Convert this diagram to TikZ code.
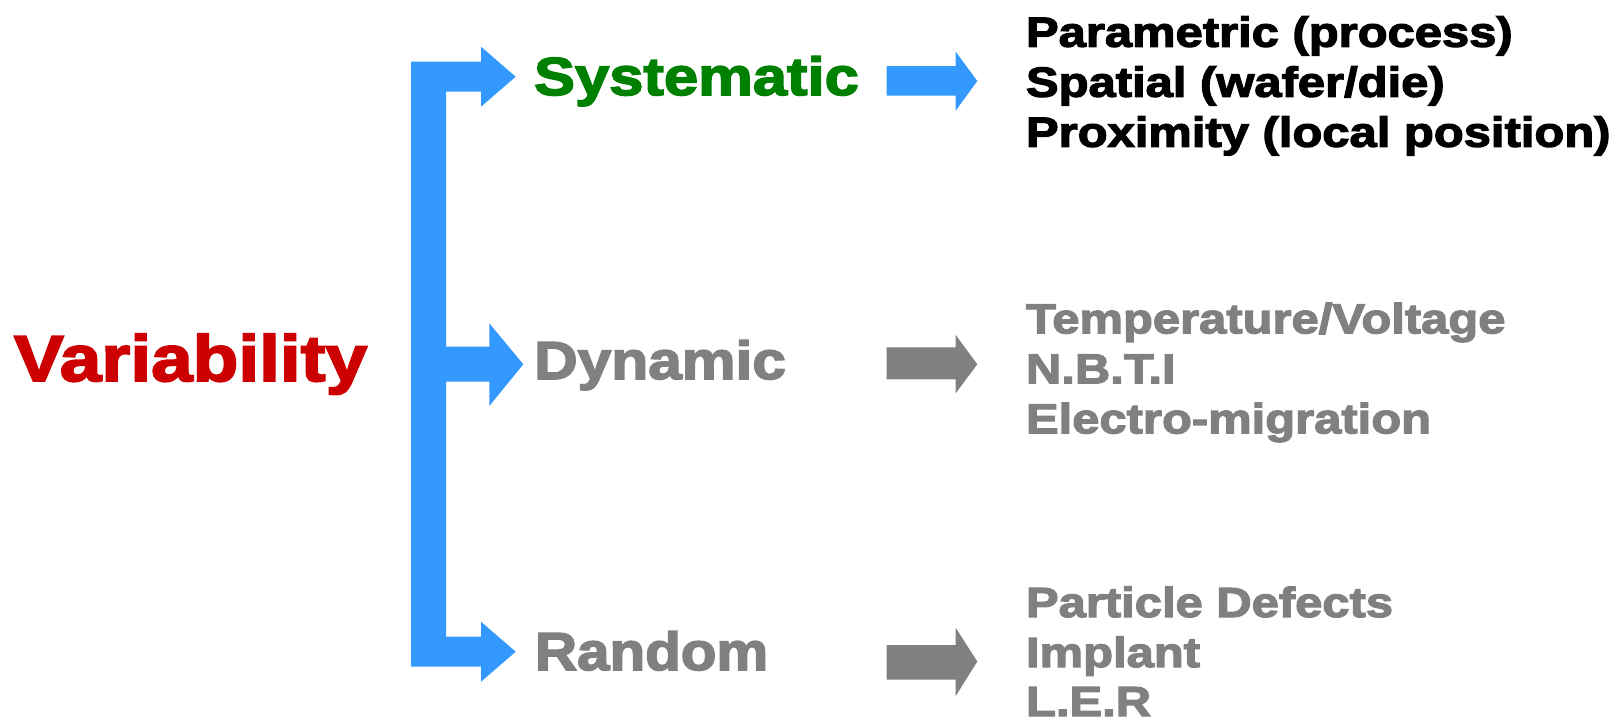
\documentclass[tikz,border=0pt]{standalone}
\usepackage{fontspec}
\newfontfamily\heavy{Liberation Sans Bold}[FakeStretch=1.15,FakeBold=3]
\newfontfamily\heavydyn{Liberation Sans Bold}[FakeStretch=1.13,FakeBold=3]
\newfontfamily\heavyrnd{Liberation Sans Bold}[FakeStretch=1.09,FakeBold=3]
\newfontfamily\heavyitem{Liberation Sans Bold}[FakeStretch=1.165,FakeBold=3]
\definecolor{barblue}{RGB}{51,153,255}
\definecolor{txtgray}{RGB}{128,128,128}
\definecolor{sysgreen}{RGB}{0,128,0}
\definecolor{varred}{RGB}{204,0,0}
\begin{document}
\begin{tikzpicture}[x=1pt,y=-1pt,
  lbl/.style={anchor=base west, inner sep=0pt, outer sep=0pt},
  big/.style={lbl, font=\heavy\fontsize{53.5}{60}\selectfont},
  item/.style={lbl, font=\heavyitem\fontsize{42}{50}\selectfont},
  barfill/.style={fill=barblue, draw=none},
  grayfill/.style={fill=txtgray, draw=none}]
\useasboundingbox (0,0) rectangle (1617,723);

% bracket with three arrows
\fill[barfill] (411,61.7) -- (481,61.7) -- (481,46.7) -- (515.7,76.7) -- (481,106.7) -- (481,91.7)
  -- (446,91.7) -- (446,346.7) -- (489.3,346.7) -- (489.3,323.3) -- (523.3,364.3) -- (489.3,406)
  -- (489.3,381.7) -- (446,381.7) -- (446,636.7) -- (481,636.7) -- (481,621.7) -- (515.7,651.7)
  -- (481,681.7) -- (481,666.7) -- (411,666.7) -- cycle;

% small arrows
\fill[barfill] (886.7,66) -- (955.7,66) -- (955.7,51.7) -- (977.3,81) -- (955.7,110.7) -- (955.7,95.7) -- (886.7,95.7) -- cycle;
\fill[grayfill] (886.7,347.3) -- (955.7,347.3) -- (955.7,335) -- (977.3,364.3) -- (955.7,393.3) -- (955.7,379.3) -- (886.7,379.3) -- cycle;
\fill[grayfill] (886.7,645) -- (955.7,645) -- (955.7,627.8) -- (977.3,661.5) -- (955.7,696) -- (955.7,679.5) -- (886.7,679.5) -- cycle;

% labels
\node[lbl, font=\heavy\fontsize{65}{70}\selectfont, text=varred] (var) at (14,381) {Variability};
\node[big, text=sysgreen] (sys) at (534,95) {Systematic};
\node[big, font=\heavydyn\fontsize{53.5}{60}\selectfont, text=txtgray] (dyn) at (534,379) {Dynamic};
\node[big, font=\heavyrnd\fontsize{53.5}{60}\selectfont, text=txtgray] (rnd) at (535,670) {Random};

\node[item, text=black] (s1) at (1026,46.7) {Parametric (process)};
\node[item, text=black] (s2) at (1026,96.7) {Spatial (wafer/die)};
\node[item, text=black] (s3) at (1026,146.7) {Proximity (local position)};

\node[item, text=txtgray] (d1) at (1026,333.3) {Temperature/Voltage};
\node[item, text=txtgray] (d2) at (1026,383.3) {N.B.T.I};
\node[item, text=txtgray] (d3) at (1026,433.3) {Electro-migration};

\node[item, text=txtgray] (r1) at (1026,617) {Particle Defects};
\node[item, text=txtgray] (r2) at (1026,667) {Implant};
\node[item, text=txtgray] (r3) at (1026,716) {L.E.R};
\end{tikzpicture}
\end{document}
